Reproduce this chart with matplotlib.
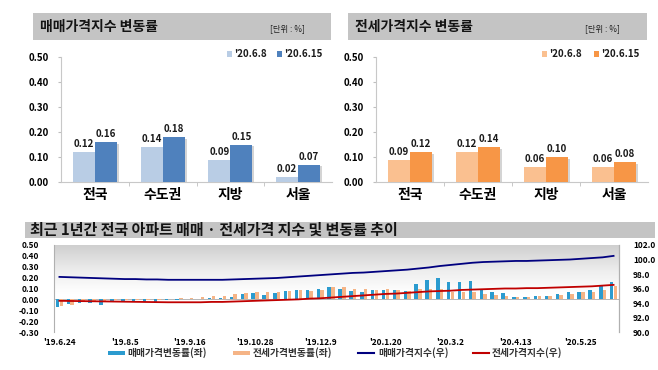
import matplotlib
matplotlib.use('Agg')
import matplotlib.pyplot as plt
import numpy as np
from matplotlib.patches import Rectangle
from matplotlib.lines import Line2D
from matplotlib.colors import LinearSegmentedColormap
import matplotlib.patheffects as pe

plt.rcParams['font.family'] = ['Noto Sans CJK KR', 'DejaVu Sans']

# ---------------- data ----------------
regions = ['전국', '수도권', '지방', '서울']
legend_dates = ["'20.6.8", "'20.6.15"]
sale_prev = [0.12, 0.14, 0.09, 0.02]
sale_cur = [0.16, 0.18, 0.15, 0.07]
jeonse_prev = [0.09, 0.12, 0.06, 0.06]
jeonse_cur = [0.12, 0.14, 0.10, 0.08]

# weekly series 2019-06-24 .. 2020-06-15 (52 weeks)
sale_chg = [-0.07, -0.04, -0.03, -0.03, -0.05, -0.02, -0.02, -0.02, -0.02, -0.02,
            -0.01, -0.01, 0.00, 0.00, 0.01, 0.01, 0.02, 0.05, 0.06, 0.04,
            0.06, 0.08, 0.09, 0.09, 0.10, 0.11, 0.10, 0.08, 0.07, 0.09,
            0.09, 0.09, 0.08, 0.14, 0.18, 0.20, 0.16, 0.16, 0.17, 0.10,
            0.07, 0.06, 0.02, 0.02, 0.03, 0.03, 0.05, 0.07, 0.07, 0.09,
            0.12, 0.16]
jeonse_chg = [-0.06, -0.05, -0.02, -0.02, -0.02, -0.01, -0.01, -0.01, -0.01, -0.01,
              0.00, 0.01, 0.01, 0.02, 0.03, 0.03, 0.05, 0.06, 0.07, 0.07,
              0.07, 0.08, 0.09, 0.08, 0.09, 0.11, 0.11, 0.10, 0.10, 0.09,
              0.10, 0.09, 0.08, 0.10, 0.10, 0.10, 0.07, 0.07, 0.07, 0.05,
              0.04, 0.03, 0.02, 0.02, 0.03, 0.03, 0.04, 0.05, 0.07, 0.07,
              0.09, 0.12]
sale_idx = [97.6, 97.55, 97.5, 97.45, 97.4, 97.35, 97.3, 97.3, 97.25, 97.25,
            97.2, 97.2, 97.2, 97.2, 97.2, 97.2, 97.25, 97.3, 97.35, 97.4,
            97.45, 97.55, 97.65, 97.75, 97.85, 97.95, 98.05, 98.15, 98.2, 98.3,
            98.4, 98.5, 98.6, 98.75, 98.9, 99.1, 99.25, 99.4, 99.55, 99.65,
            99.7, 99.75, 99.8, 99.8, 99.85, 99.9, 99.95, 100.0, 100.1, 100.2,
            100.3, 100.5]
jeonse_idx = [94.3, 94.28, 94.26, 94.24, 94.22, 94.2, 94.18, 94.16, 94.14, 94.12,
              94.1, 94.1, 94.1, 94.1, 94.15, 94.15, 94.2, 94.25, 94.3, 94.35,
              94.4, 94.45, 94.5, 94.6, 94.65, 94.75, 94.85, 94.95, 95.05, 95.15,
              95.25, 95.3, 95.4, 95.5, 95.6, 95.65, 95.7, 95.8, 95.85, 95.9,
              95.95, 96.0, 96.0, 96.05, 96.05, 96.1, 96.15, 96.2, 96.25, 96.3,
              96.4, 96.5]
week_ticks = ["'19.6.24", "'19.8.5", "'19.9.16", "'19.10.28", "'19.12.9",
              "'20.1.20", "'20.3.2", "'20.4.13", "'20.5.25"]
series_names = ['매매가격변동률(좌)', '전세가격변동률(좌)', '매매가격지수(우)', '전세가격지수(우)']

# ---------------- figure ----------------
W, H = 658, 370
fig = plt.figure(figsize=(W / 100, H / 100), dpi=100)
fig.patch.set_facecolor('white')


def rect(x0, y0, x1, y1):
    return [x0 / W, 1 - y1 / H, (x1 - x0) / W, (y1 - y0) / H]


def fx(x):
    return x / W


def fy(y):
    return 1 - y / H


def title_bar(x0, y0, x1, y1, text, fs, tx, unit=None, ux=None):
    fig.add_artist(Rectangle((fx(x0), fy(y1)), fx(x1) - fx(x0), fy(y0) - fy(y1),
                             transform=fig.transFigure, facecolor='#c4c4c4',
                             edgecolor='none', zorder=0))
    fig.text(fx(tx), fy((y0 + y1) / 2), text, fontsize=fs, fontweight='bold',
             va='center', ha='left', color='#141414')
    if unit:
        fig.text(fx(ux), fy((y0 + y1) / 2 + 2), unit, fontsize=6, va='center',
                 ha='left', color='#222222')


shadow = [pe.SimplePatchShadow(offset=(1.5, -1.2), alpha=0.25, shadow_rgbFace='#555555'),
          pe.Normal()]


def top_panel(x0, x1, prev, cur, c1, c2, leg_x):
    ax = fig.add_axes(rect(x0, 57, x1, 182))
    x = np.arange(len(regions))
    w = 0.325
    b1 = ax.bar(x - w / 2, prev, w, color=c1, zorder=3)
    b2 = ax.bar(x + w / 2, cur, w, color=c2, zorder=3)
    for b in list(b1) + list(b2):
        b.set_path_effects(shadow)
    for bars in (b1, b2):
        ax.bar_label(bars, fmt='%.2f', padding=2, fontsize=7, fontweight='bold',
                     color='#1a1a1a')
    ax.set_xlim(-0.5, 3.5)
    ax.set_ylim(0, 0.5)
    yt = np.arange(0, 0.51, 0.1)
    ax.set_yticks(yt, ['%.2f' % v for v in yt], fontsize=7, fontweight='bold')
    ax.set_xticks(x, regions, fontsize=10, fontweight='bold')
    ax.set_xticks([0.5, 1.5, 2.5], minor=True)
    ax.tick_params(axis='x', which='major', length=0, pad=4)
    ax.tick_params(axis='x', which='minor', length=3, color='#bfbfbf')
    ax.tick_params(axis='y', length=2.5, color='#bfbfbf', pad=6)
    for s in ('top', 'right'):
        ax.spines[s].set_visible(False)
    for s in ('left', 'bottom'):
        ax.spines[s].set_color('#c8c8c8')
        ax.spines[s].set_linewidth(0.8)
    # legend
    for i, (lab, c) in enumerate(zip(legend_dates, (c1, c2))):
        lx = leg_x[i]
        fig.add_artist(Rectangle((fx(lx), fy(57)), 5 / W, 6 / H, transform=fig.transFigure,
                                 facecolor=c, edgecolor='none'))
        fig.text(fx(lx + 7), fy(54), lab, fontsize=7, fontweight='bold', va='center',
                 ha='left', color='#1a1a1a')
    return ax


title_bar(33, 13, 331, 40, '매매가격지수 변동률', 10, 40, '[단위 : %]', 270)
title_bar(348, 13, 647, 40, '전세가격지수 변동률', 10, 355, '[단위 : %]', 585)

top_panel(61, 332, sale_prev, sale_cur, '#b9cde5', '#4f81bd', (227, 277))
top_panel(376, 648, jeonse_prev, jeonse_cur, '#fac090', '#f79646', (542, 594))

# ---------------- bottom panel ----------------
title_bar(25, 222, 655, 238, '최근 1년간 전국 아파트 매매 · 전세가격 지수 및 변동률 추이', 10.8, 30)

ax = fig.add_axes(rect(54, 245, 619, 332))
weeks = np.arange(len(sale_chg))
ax.set_xlim(-0.5, len(weeks) - 0.5)
cmap = LinearSegmentedColormap.from_list('bg', [(0, '#ffffff'), (0.45, '#ffffff'),
                                                (0.7, '#eeeeee'), (1, '#cfcfcf')])
grad = np.linspace(0, 1, 200).reshape(-1, 1)
ax.imshow(grad, extent=[-0.5, len(weeks) - 0.5, 0.5, -0.3], aspect='auto', cmap=cmap,
          origin='upper', zorder=0)
ax.set_ylim(-0.3, 0.5)
bw = 0.32
ax.bar(weeks - bw / 2 - 0.01, sale_chg, bw, color='#2b9bcf', zorder=3)
ax.bar(weeks + bw / 2 + 0.01, jeonse_chg, bw, color='#f5b486', zorder=3)
ax.axhline(0, color='#9a9a9a', lw=0.5, zorder=2)
yt = np.arange(-0.3, 0.51, 0.1)
ax.set_yticks(yt, ['%.2f' % (v + 0.0) for v in np.round(yt, 2)], fontsize=6,
              fontweight='bold')
ax.set_xticks(weeks[::6], week_ticks, fontsize=6, fontweight='bold')
ax.tick_params(axis='y', length=0, pad=11)
ax.tick_params(axis='x', length=0, pad=4)
for s in ('top', 'bottom'):
    ax.spines[s].set_visible(False)
for s in ('left', 'right'):
    ax.spines[s].set_color('#b0b0b0')
    ax.spines[s].set_linewidth(0.8)

ax2 = ax.twinx()
ax2.plot(weeks, sale_idx, color='#00007f', lw=1.3, zorder=4)
ax2.plot(weeks, jeonse_idx, color='#c00000', lw=1.3, zorder=4)
ax2.set_ylim(90, 102)
yt2 = np.arange(90, 102.1, 2)
ax2.set_yticks(yt2, ['%.1f' % v for v in yt2], fontsize=6, fontweight='bold')
ax2.tick_params(axis='y', length=0, pad=10)
for s in ('top', 'bottom', 'left'):
    ax2.spines[s].set_visible(False)
ax2.spines['right'].set_color('#b0b0b0')
ax2.spines['right'].set_linewidth(0.8)

# bottom legend
leg_y = 353
items = [(108, 127, 'bar', '#2b9bcf'), (233, 253, 'bar', '#f5b486'),
         (358, 378, 'line', '#00007f'), (473, 492, 'line', '#c00000')]
for (mx, tx, kind, c), name in zip(items, series_names):
    if kind == 'bar':
        fig.add_artist(Rectangle((fx(mx), fy(leg_y + 2)), 17 / W, 4 / H,
                                 transform=fig.transFigure, facecolor=c, edgecolor='none'))
    else:
        fig.add_artist(Line2D([fx(mx), fx(mx + 16)], [fy(leg_y), fy(leg_y)],
                              transform=fig.transFigure, color=c, lw=1.5))
    fig.text(fx(tx), fy(leg_y), name, fontsize=7, fontweight='bold', va='center',
             ha='left', color='#333333')

fig.savefig('out.png', dpi=100, facecolor='white')
